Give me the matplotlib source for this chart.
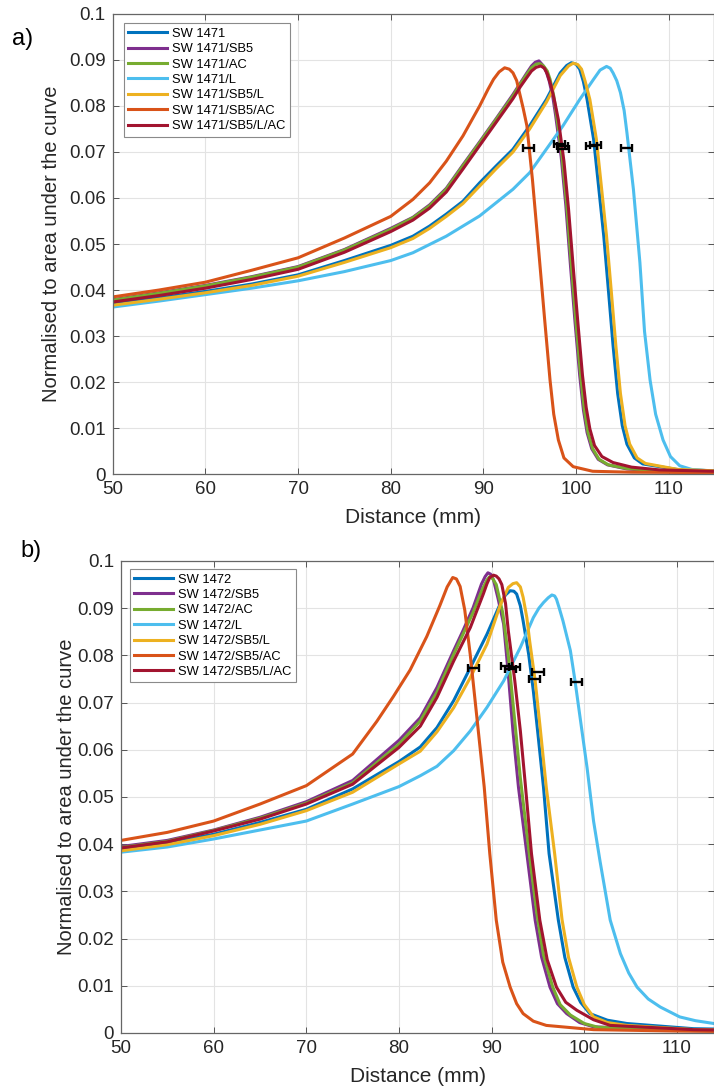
import matplotlib
matplotlib.use("Agg")
import matplotlib.pyplot as plt

plt.rcParams["font.family"] = ["Liberation Sans", "DejaVu Sans"]

COLORS = ["#0072BD", "#7E2F8E", "#77AC30", "#4DBEEE", "#EDB120", "#D95319", "#A2142F"]

# ---- panel a) : SW 1471 ----
A_LABELS = ["SW 1471", "SW 1471/SB5", "SW 1471/AC", "SW 1471/L",
            "SW 1471/SB5/L", "SW 1471/SB5/AC", "SW 1471/SB5/L/AC"]

A_BASE_X = [50, 55, 60, 65, 70, 75, 80, 82.4, 84.2, 86.0, 87.8, 89.6, 91.4, 93.2]

A_SW_X = A_BASE_X + [95.0, 96.8, 98.3, 99.0, 99.5, 100.0, 100.4, 100.8, 101.2, 101.9, 102.4, 103.0, 103.5, 104.0,
                     104.5, 105.0, 105.5, 106.3, 107.2, 110.9, 115]
A_SW_Y = [0.0370, 0.0383, 0.0397, 0.0413, 0.0433, 0.0464, 0.0497, 0.0517, 0.0539, 0.0565, 0.0593, 0.0633, 0.0670, 0.0706,
          0.0757, 0.0814, 0.0872, 0.0888, 0.0894, 0.0891, 0.0880, 0.0853, 0.0814, 0.0728, 0.0633, 0.0517, 0.0400, 0.0280,
          0.0175, 0.0105, 0.0065, 0.0035, 0.0022, 0.0010, 0.0007]

A_SB5_X = A_BASE_X + [94.0, 94.7, 95.2, 95.6, 96.0, 96.4, 96.8, 97.1, 97.5, 97.8, 98.4, 98.9, 99.4, 99.9, 100.4,
                      100.8, 101.2, 101.7, 102.4, 103.4, 105.5, 109, 115]
A_SB5_Y = [0.0379, 0.0394, 0.0410, 0.0429, 0.0451, 0.0488, 0.0534, 0.0558, 0.0585, 0.0621, 0.0672, 0.0722, 0.0773, 0.0825,
           0.0850, 0.0872, 0.0887, 0.0895, 0.0898, 0.0889, 0.0874, 0.0855, 0.0820, 0.0780, 0.0690, 0.0585, 0.0455, 0.0330,
           0.0215, 0.0140, 0.0090, 0.0055, 0.0032, 0.0020, 0.0011, 0.0006, 0.0004]

A_AC_X = A_BASE_X + [94.0, 94.7, 95.2, 95.7, 96.1, 96.5, 96.9, 97.2, 97.6, 97.9, 98.5, 99.0, 99.5, 100.0, 100.5,
                     100.9, 101.3, 101.8, 102.5, 103.5, 105.5, 109, 115]
A_AC_Y = [0.0378, 0.0393, 0.0409, 0.0428, 0.0450, 0.0487, 0.0532, 0.0557, 0.0583, 0.0619, 0.0670, 0.0720, 0.0771, 0.0822,
          0.0848, 0.0869, 0.0883, 0.0891, 0.0892, 0.0887, 0.0876, 0.0858, 0.0822, 0.0780, 0.0690, 0.0585, 0.0455, 0.0330,
          0.0215, 0.0140, 0.0090, 0.0055, 0.0032, 0.0020, 0.0012, 0.0007, 0.0004]

A_L_X = A_BASE_X + [95.0, 96.8, 98.6, 100.4, 101.9, 102.6, 103.3, 103.7, 104.0, 104.4, 104.8, 105.2, 105.5, 106.2,
                    106.9, 107.4, 108.0, 108.6, 109.4, 110.2, 111.2, 112.5, 115]
A_L_Y = [0.0363, 0.0376, 0.0390, 0.0404, 0.0420, 0.0440, 0.0464, 0.0481, 0.0499, 0.0517, 0.0539, 0.0561, 0.0590, 0.0619,
         0.0655, 0.0706, 0.0757, 0.0814, 0.0858, 0.0878, 0.0886, 0.0882, 0.0872, 0.0855, 0.0829, 0.0790, 0.0742, 0.0619,
         0.0460, 0.0310, 0.0204, 0.0130, 0.0074, 0.0038, 0.0018, 0.0010, 0.0006]

A_SB5L_X = A_BASE_X + [95.0, 96.8, 98.3, 99.2, 99.7, 100.2, 100.6, 101.0, 101.5, 102.2, 102.7, 103.3, 103.8, 104.3,
                       104.8, 105.3, 105.8, 106.6, 107.5, 111.0, 115]
A_SB5L_Y = [0.0367, 0.0380, 0.0394, 0.0410, 0.0430, 0.0460, 0.0492, 0.0512, 0.0534, 0.0560, 0.0588, 0.0626, 0.0664, 0.0700,
            0.0750, 0.0808, 0.0866, 0.0887, 0.0893, 0.0890, 0.0880, 0.0853, 0.0814, 0.0728, 0.0633, 0.0517, 0.0400, 0.0280,
            0.0175, 0.0105, 0.0065, 0.0035, 0.0023, 0.0010, 0.0007]

A_SB5AC_X = [50, 55, 60, 65, 70, 75, 80, 82.4, 84.2, 86.0, 87.8, 89.6, 90.5, 91.1, 91.7, 92.3, 92.8, 93.2, 93.6, 93.9,
             94.3, 94.7, 95.3, 96.0, 96.6, 97.2, 97.6, 98.1, 98.7, 99.7, 101.8, 106, 115]
A_SB5AC_Y = [0.0385, 0.0400, 0.0417, 0.0443, 0.0470, 0.0513, 0.0560, 0.0597, 0.0633, 0.0680, 0.0735, 0.0800, 0.0836, 0.0858,
             0.0874, 0.0883, 0.0880, 0.0872, 0.0855, 0.0829, 0.0795, 0.0757, 0.0640, 0.0480, 0.0340, 0.0204, 0.0130, 0.0074,
             0.0035, 0.0016, 0.0006, 0.0004, 0.0003]

A_SB5LAC_X = A_BASE_X + [94.0, 94.7, 95.2, 95.7, 96.2, 96.6, 96.9, 97.3, 97.7, 98.1, 98.7, 99.2, 99.7, 100.2, 100.7,
                         101.1, 101.5, 102.0, 102.8, 104.0, 106, 109, 115]
A_SB5LAC_Y = [0.0374, 0.0388, 0.0404, 0.0423, 0.0445, 0.0482, 0.0527, 0.0552, 0.0578, 0.0613, 0.0663, 0.0714, 0.0765, 0.0816,
              0.0842, 0.0862, 0.0876, 0.0884, 0.0887, 0.0882, 0.0870, 0.0845, 0.0810, 0.0770, 0.0680, 0.0575, 0.0450, 0.0330,
              0.0215, 0.0145, 0.0098, 0.0062, 0.0038, 0.0025, 0.0015, 0.0009, 0.0006]

A_ERR_X = [101.7, 98.2, 98.5, 105.5, 102.1, 94.9, 98.7]
A_ERR_Y = [0.0713, 0.0717, 0.0712, 0.0709, 0.0715, 0.0709, 0.0707]
A_ERR_W = [0.6, 0.6, 0.6, 0.6, 0.6, 0.6, 0.6]

# ---- panel b) : SW 1472 ----
B_LABELS = ["SW 1472", "SW 1472/SB5", "SW 1472/AC", "SW 1472/L",
            "SW 1472/SB5/L", "SW 1472/SB5/AC", "SW 1472/SB5/L/AC"]

B_BASE_X = [50, 55, 60, 65, 70, 75, 80, 82.3]

B_SW_X = B_BASE_X + [84.1, 85.9, 87.7, 89.5, 90.9, 91.5, 92.0, 92.4, 92.7, 93.1, 93.4, 94.0, 94.5, 95.0, 95.6, 96.2,
                     97.2, 97.9, 98.8, 99.6, 100.6, 102.5, 104.6, 111.8, 115]
B_SW_Y = [0.0390, 0.0403, 0.0421, 0.0446, 0.0474, 0.0517, 0.0575, 0.0606,
          0.0647, 0.0704, 0.0774, 0.0845, 0.0908, 0.0928, 0.0937, 0.0936, 0.0930, 0.0905, 0.0873, 0.0802, 0.0725, 0.0633,
          0.0520, 0.0380, 0.0239, 0.0160, 0.0097, 0.0065, 0.0041, 0.0027, 0.0020, 0.0009, 0.0008]

B_SB5_X = B_BASE_X + [84.1, 85.9, 86.9, 88.0, 88.9, 89.3, 89.6, 89.9, 90.2, 90.7, 91.3, 91.8, 92.3, 92.9, 93.8, 94.7,
                      95.4, 96.3, 97.1, 98.1, 99.5, 101, 108, 115]
B_SB5_Y = [0.0395, 0.0408, 0.0430, 0.0457, 0.0490, 0.0535, 0.0620, 0.0668,
           0.0732, 0.0810, 0.0852, 0.0901, 0.0951, 0.0967, 0.0975, 0.0972, 0.0960, 0.0920, 0.0866, 0.0760, 0.0640, 0.0520,
           0.0380, 0.0239, 0.0160, 0.0097, 0.0062, 0.0041, 0.0022, 0.0013, 0.0008, 0.0006]

B_AC_X = B_BASE_X + [84.1, 85.9, 88.0, 89.0, 89.5, 89.8, 90.1, 90.5, 91.2, 91.8, 92.4, 93.1, 94.0, 94.9, 95.6, 96.6,
                     97.4, 98.5, 100, 101.5, 108, 115]
B_AC_Y = [0.0393, 0.0406, 0.0429, 0.0455, 0.0487, 0.0530, 0.0612, 0.0661,
          0.0722, 0.0802, 0.0891, 0.0940, 0.0960, 0.0967, 0.0963, 0.0950, 0.0890, 0.0800, 0.0680, 0.0540, 0.0390, 0.0250,
          0.0165, 0.0097, 0.0060, 0.0038, 0.0020, 0.0012, 0.0007, 0.0005]

B_L_X = B_BASE_X + [84.1, 85.9, 87.7, 89.5, 91.3, 93.1, 94.5, 95.1, 95.6, 96.1, 96.5, 96.8, 97.0, 97.3, 97.7, 98.5,
                    99.0, 99.5, 100.3, 101.0, 101.7, 102.8, 103.9, 104.8, 105.7, 106.9, 108.2, 110.3, 112, 114, 115]
B_L_Y = [0.0383, 0.0394, 0.0411, 0.0430, 0.0449, 0.0485, 0.0522, 0.0545,
         0.0565, 0.0598, 0.0640, 0.0690, 0.0746, 0.0817, 0.0880, 0.0900, 0.0912, 0.0922, 0.0928, 0.0926, 0.0919, 0.0900,
         0.0873, 0.0810, 0.0746, 0.0675, 0.0562, 0.0449, 0.0364, 0.0239, 0.0168, 0.0127, 0.0097, 0.0072, 0.0055, 0.0034,
         0.0026, 0.0020, 0.0019]

B_SB5L_X = B_BASE_X + [84.1, 85.9, 87.7, 89.5, 90.9, 91.8, 92.3, 92.7, 93.1, 93.4, 93.8, 94.1, 94.7, 95.2, 95.9, 96.8,
                       97.6, 98.3, 99.2, 100.0, 101, 102.5, 104.6, 112, 115]
B_SB5L_Y = [0.0386, 0.0399, 0.0418, 0.0442, 0.0471, 0.0510, 0.0570, 0.0597,
            0.0638, 0.0689, 0.0753, 0.0824, 0.0905, 0.0944, 0.0952, 0.0954, 0.0945, 0.0923, 0.0880, 0.0831, 0.0746, 0.0654,
            0.0520, 0.0380, 0.0240, 0.0160, 0.0097, 0.0060, 0.0034, 0.0022, 0.0016, 0.0007, 0.0006]

B_SB5AC_X = [50, 55, 60, 65, 70, 75, 77.6, 79.4, 81.2, 83.0, 84.4, 85.2, 85.8, 86.2, 86.6, 87.1, 87.7, 88.4, 89.2, 89.8,
             90.5, 91.2, 92.0, 92.7, 93.4, 94.5, 95.9, 101, 110, 115]
B_SB5AC_Y = [0.0408, 0.0425, 0.0449, 0.0485, 0.0524, 0.0591, 0.0660, 0.0713, 0.0769, 0.0840, 0.0905, 0.0945, 0.0965, 0.0962,
             0.0946, 0.0896, 0.0800, 0.0670, 0.0521, 0.0380, 0.0239, 0.0150, 0.0097, 0.0062, 0.0041, 0.0025, 0.0016, 0.0007,
             0.0004, 0.0003]

B_SB5LAC_X = B_BASE_X + [84.1, 85.9, 87.7, 89.1, 89.5, 89.8, 90.2, 90.5, 90.8, 91.1, 91.5, 91.8, 92.5, 93.1, 93.6, 94.3,
                         95.2, 96.0, 97.0, 98.0, 99.2, 101, 102.8, 111.8, 115]
B_SB5LAC_Y = [0.0392, 0.0405, 0.0428, 0.0453, 0.0485, 0.0527, 0.0605, 0.0650,
              0.0711, 0.0788, 0.0859, 0.0930, 0.0952, 0.0965, 0.0970, 0.0968, 0.0962, 0.0950, 0.0910, 0.0852, 0.0746, 0.0640,
              0.0534, 0.0380, 0.0239, 0.0155, 0.0097, 0.0065, 0.0048, 0.0028, 0.0016, 0.0007, 0.0006]

B_ERR_X = [94.6, 91.6, 92.0, 99.2, 95.0, 88.0, 92.5]
B_ERR_Y = [0.0750, 0.0778, 0.0772, 0.0744, 0.0765, 0.0773, 0.0775]
B_ERR_W = [0.6, 0.6, 0.6, 0.6, 0.6, 0.6, 0.6]


def style_axes(ax, xmax):
    ax.set_xlim(50, xmax)
    ax.set_ylim(0, 0.1)
    ax.set_xticks([50, 60, 70, 80, 90, 100, 110])
    ax.set_yticks([0, 0.01, 0.02, 0.03, 0.04, 0.05, 0.06, 0.07, 0.08, 0.09, 0.1])
    ax.set_yticklabels(["0", "0.01", "0.02", "0.03", "0.04", "0.05", "0.06", "0.07", "0.08", "0.09", "0.1"])
    ax.grid(True, color="#e3e3e3", linewidth=0.8)
    ax.set_axisbelow(True)
    ax.tick_params(direction="in", top=True, right=True, length=4, width=0.7,
                   labelsize=13.5, labelcolor="#262626", color="#555555", pad=5)
    for sp in ax.spines.values():
        sp.set_color("#666666")
        sp.set_linewidth(0.9)


def draw_panel(ax, series, labels, err, xmax, legend_anchor):
    for (xs, ys), lab, col in zip(series, labels, COLORS):
        ax.plot(xs, ys, color=col, linewidth=2.2, label=lab, solid_joinstyle="round")
    ex, ey, ew = err
    ax.errorbar(ex, ey, xerr=ew, fmt="none", ecolor="black", elinewidth=1.7,
                capsize=3, capthick=1.7, zorder=5)
    style_axes(ax, xmax)
    leg = ax.legend(loc="upper left", bbox_to_anchor=legend_anchor, borderaxespad=0,
                    fontsize=9.3, handlelength=3.0, handletextpad=0.4, labelspacing=0.26,
                    borderpad=0.35, fancybox=False, framealpha=1, edgecolor="#8a8a8a")
    leg.get_frame().set_linewidth(0.8)
    ax.set_xlabel("Distance (mm)", fontsize=15, color="#262626", labelpad=7)


fig = plt.figure(figsize=(7.14, 10.91), dpi=100)

ax_a = fig.add_axes([0.158, 0.5655, 0.842, 0.4217])
draw_panel(ax_a,
           [(A_SW_X, A_SW_Y), (A_SB5_X, A_SB5_Y), (A_AC_X, A_AC_Y), (A_L_X, A_L_Y),
            (A_SB5L_X, A_SB5L_Y), (A_SB5AC_X, A_SB5AC_Y), (A_SB5LAC_X, A_SB5LAC_Y)],
           A_LABELS, (A_ERR_X, A_ERR_Y, A_ERR_W), 114.9, (0.018, 0.980))
ax_a.set_ylabel("Normalised to area under the curve", fontsize=14.5, color="#262626")
ax_a.yaxis.set_label_coords(-0.0865, 0.5)

ax_b = fig.add_axes([0.1695, 0.0532, 0.8305, 0.4326])
draw_panel(ax_b,
           [(B_SW_X, B_SW_Y), (B_SB5_X, B_SB5_Y), (B_AC_X, B_AC_Y), (B_L_X, B_L_Y),
            (B_SB5L_X, B_SB5L_Y), (B_SB5AC_X, B_SB5AC_Y), (B_SB5LAC_X, B_SB5LAC_Y)],
           B_LABELS, (B_ERR_X, B_ERR_Y, B_ERR_W), 114.0, (0.015, 0.983))
ax_b.set_ylabel("Normalised to area under the curve", fontsize=14.5, color="#262626")
ax_b.yaxis.set_label_coords(-0.0759, 0.5)

fig.text(0.017, 0.964, "a)", fontsize=17, va="center", ha="left")
fig.text(0.028, 0.495, "b)", fontsize=17, va="center", ha="left")

fig.savefig("out.png", dpi=100)
plt.close(fig)
